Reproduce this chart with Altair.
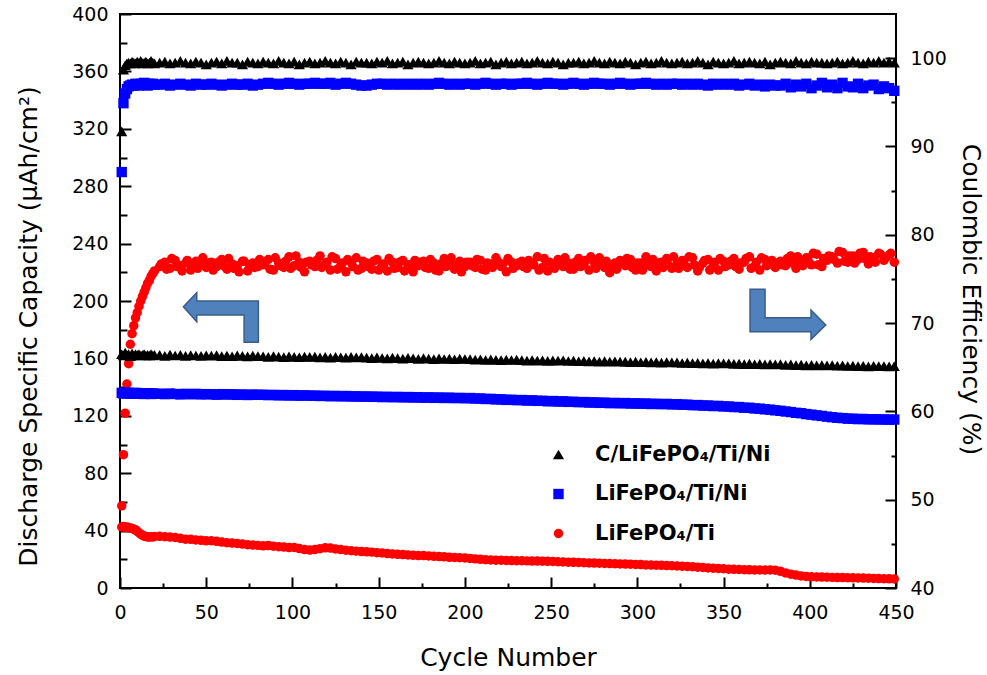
import altair as alt
import pandas as pd

# ---------------- data ----------------
cycles = list(range(1, 21)) + list(range(23, 450, 3))
cycles_b = list(range(24, 448, 3))  # extra read-outs of the red efficiency cloud
series_names = ["C/LiFePO\u2084/Ti/Ni", "LiFePO\u2084/Ti/Ni", "LiFePO\u2084/Ti"]
series_colors = ["#000000", "#0000FF", "#FF0000"]
series_shapes = ["triangle-up", "square", "circle"]

# Coulombic efficiency (%)
eff_black = [91.7, 98.7, 99.2, 99.4, 99.5, 99.4, 99.6, 99.5, 99.4, 99.6,
             99.5, 99.7, 99.4, 99.5, 99.6, 99.4, 99.5, 99.7, 99.5, 99.4,
             99.5, 99.6, 99.4, 99.5, 99.7, 99.5, 99.4, 99.6, 99.5, 99.3,
             99.5, 99.6, 99.4, 99.7, 99.5, 99.5, 99.3, 99.6, 99.5, 99.4,
             99.6, 99.5, 99.4, 99.7, 99.5, 99.4, 99.6, 99.3, 99.5, 99.6,
             99.4, 99.5, 99.7, 99.5, 99.4, 99.6, 99.5, 99.3, 99.6, 99.5,
             99.5, 99.4, 99.6, 99.5, 99.7, 99.4, 99.5, 99.6, 99.3, 99.5,
             99.6, 99.5, 99.4, 99.5, 99.7, 99.5, 99.4, 99.6, 99.5, 99.4,
             99.5, 99.7, 99.4, 99.5, 99.6, 99.3, 99.5, 99.6, 99.4, 99.5,
             99.6, 99.4, 99.5, 99.7, 99.5, 99.4, 99.6, 99.5, 99.3, 99.5,
             99.5, 99.6, 99.4, 99.5, 99.7, 99.5, 99.4, 99.6, 99.5, 99.4,
             99.6, 99.5, 99.3, 99.5, 99.6, 99.4, 99.5, 99.7, 99.5, 99.4,
             99.5, 99.6, 99.4, 99.5, 99.7, 99.5, 99.3, 99.6, 99.5, 99.4,
             99.5, 99.7, 99.4, 99.5, 99.6, 99.5, 99.4, 99.6, 99.3, 99.5,
             99.6, 99.5, 99.4, 99.7, 99.5, 99.4, 99.6, 99.5, 99.5, 99.4,
             99.5, 99.6, 99.4, 99.5, 99.7, 99.5, 99.4, 99.6, 99.5, 99.7,
             99.5, 99.6, 99.5]
eff_blue = [87.1, 94.9, 96.0, 96.5, 96.8, 96.9, 97.0, 96.9, 97.1, 97.0,
            96.9, 97.1, 97.0, 97.2, 97.0, 96.9, 97.1, 97.0, 97.1, 97.0,
            97.0, 97.1, 96.9, 97.0, 97.1, 97.0, 96.9, 97.1, 97.0, 97.0,
            97.1, 97.0, 96.9, 97.0, 97.1, 97.0, 97.0, 97.1, 96.9, 97.0,
            97.1, 97.2, 97.1, 97.0, 97.1, 97.2, 97.1, 97.0, 97.1, 97.1,
            97.2, 97.1, 97.1, 97.2, 97.0, 97.1, 97.2, 97.1, 97.0, 96.9,
            96.9, 97.0, 97.1, 97.1, 97.0, 97.1, 97.0, 97.1, 97.0, 97.1,
            97.0, 97.1, 97.0, 97.1, 97.2, 97.1, 97.0, 97.1, 97.0, 97.1,
            97.1, 97.0, 97.1, 97.2, 97.1, 97.0, 97.1, 97.1, 97.0, 97.1,
            97.1, 97.2, 97.1, 97.0, 97.1, 97.2, 97.1, 97.1, 97.0, 97.1,
            97.2, 97.1, 97.0, 97.1, 97.2, 97.1, 97.1, 97.0, 97.1, 97.2,
            97.1, 97.0, 97.1, 97.1, 97.2, 97.1, 97.0, 97.1, 97.0, 97.1,
            97.1, 97.0, 97.1, 97.0, 97.1, 97.0, 96.9, 97.1, 97.0, 97.1,
            97.0, 97.1, 96.9, 97.0, 97.1, 96.9, 97.0, 96.8, 97.0, 96.9,
            96.9, 97.1, 96.7, 97.0, 96.8, 97.1, 96.6, 96.9, 97.2, 96.7,
            97.0, 96.6, 97.2, 96.8, 96.7, 97.1, 96.6, 96.9, 97.0, 96.5,
            96.8, 96.6, 96.3]
eff_red = [49.3, 55.1, 59.8, 63.1, 65.4, 67.6, 68.8, 69.7, 70.6, 71.2,
           71.9, 72.5, 73.0, 73.5, 74.0, 74.5, 74.8, 75.3, 75.6, 75.9,
           76.4, 76.9, 76.2, 77.1, 76.5, 76.8, 76.0, 77.0, 76.6, 76.3,
           76.9, 76.4, 77.2, 76.1, 76.7, 76.5, 77.0, 75.9, 76.8, 76.4,
           76.6, 77.2, 76.0, 76.8, 76.3, 77.5, 76.5, 76.9, 75.8, 77.0,
           76.4, 77.6, 76.7, 76.0, 77.3, 76.5, 75.8, 76.9, 77.4, 76.2,
           76.8, 76.1, 77.2, 76.5, 75.9, 76.9, 76.3, 77.1, 76.6, 75.8,
           76.5, 77.0, 76.2, 76.8, 75.9, 77.3, 76.6, 76.1, 77.0, 76.4,
           76.9, 76.3, 77.1, 76.0, 76.7, 77.4, 76.4, 75.8, 76.9, 76.5,
           77.0, 76.2, 76.8, 77.5, 76.3, 75.9, 76.7, 77.2, 76.4, 76.8,
           76.1, 77.3, 76.6, 76.0, 76.9, 77.4, 76.3, 75.7, 76.8, 77.1,
           76.5, 77.2, 76.0, 76.8, 77.5, 76.4, 75.9, 76.9, 77.3, 76.2,
           76.7, 77.1, 76.3, 77.4, 75.9, 76.8, 77.2, 76.5, 76.0, 77.0,
           76.6, 77.3, 76.1, 76.9, 77.5, 76.4, 76.0, 77.2, 76.7, 76.3,
           77.0, 76.5, 77.6, 76.2, 76.9, 77.4, 76.6, 77.8, 76.4, 77.1,
           77.5, 76.8, 78.0, 76.9, 77.6, 77.2, 78.0, 76.7, 77.4, 77.9,
           77.1, 77.7, 76.9]
eff_red_b = [76.7, 76.1, 77.3, 76.4, 75.9, 77.1, 76.6, 76.2, 77.4, 76.8,
             76.0, 76.9, 76.5, 77.3, 76.2, 75.8, 77.0, 76.6, 76.3, 77.2,
             76.8, 76.1, 77.4, 76.5, 77.0, 76.2, 77.6, 76.3, 76.9, 76.6,
             77.1, 76.3, 76.9, 77.5, 76.1, 76.8, 77.2, 76.4, 76.0, 77.0,
             76.4, 77.0, 76.0, 76.7, 77.3, 76.2, 76.9, 75.9, 76.6, 77.1,
             76.9, 76.3, 77.2, 76.0, 76.7, 76.4, 77.4, 76.6, 75.8, 76.9,
             76.5, 77.2, 76.1, 76.8, 76.3, 77.0, 76.7, 77.3, 76.2, 76.8,
             76.4, 77.1, 76.6, 76.0, 77.3, 76.9, 76.2, 76.6, 77.4, 76.1,
             76.9, 76.4, 77.1, 77.5, 76.2, 76.7, 77.0, 76.4, 76.1, 76.9,
             77.3, 76.3, 76.8, 76.0, 76.6, 77.2, 76.8, 76.3, 76.6, 77.5,
             76.2, 76.8, 77.5, 76.6, 76.3, 77.1, 76.0, 76.9, 77.3, 76.4,
             77.0, 76.4, 76.8, 77.3, 76.2, 76.9, 77.4, 76.5, 77.1, 76.8,
             76.6, 77.3, 76.8, 77.5, 76.5, 77.1, 77.9, 76.6, 77.3, 77.6,
             77.2, 78.1, 77.0, 77.6, 76.8, 77.9, 77.3, 77.5, 76.9, 77.8,
             77.4, 77.9]

# Discharge specific capacity (uAh/cm2)
cap_black = [163.0, 162.0, 164.0, 162.5, 163.0, 161.5, 163.5, 162.0, 163.0, 162.5,
             163.0, 162.0, 162.5, 163.0, 162.0, 162.5, 162.0, 163.0, 162.0, 162.5,
             162.5, 161.8, 162.6, 162.0, 162.4, 161.7, 162.3, 162.0, 161.8, 162.2,
             161.9, 162.3, 161.6, 162.0, 161.5, 162.1, 161.8, 161.4, 162.0, 161.6,
             161.5, 161.0, 161.6, 161.2, 160.9, 161.4, 161.1, 160.8, 161.3, 161.0,
             161.2, 160.7, 161.0, 160.6, 161.1, 160.8, 160.5, 161.0, 160.7, 160.9,
             160.6, 160.2, 160.7, 160.3, 160.0, 160.5, 160.2, 159.9, 160.4, 160.1,
             159.7, 160.2, 159.8, 159.5, 160.0, 159.6, 159.9, 159.4, 159.8, 159.6,
             159.5, 159.1, 159.4, 158.9, 159.3, 159.0, 158.8, 159.2, 158.9, 159.1,
             158.8, 158.5, 158.9, 158.4, 158.7, 158.3, 158.6, 158.4, 158.7, 158.2,
             158.4, 158.0, 158.3, 157.9, 158.2, 157.8, 158.1, 157.7, 158.0, 157.8,
             157.8, 157.4, 157.7, 157.3, 157.6, 157.2, 157.5, 157.1, 157.4, 157.2,
             157.2, 156.8, 157.1, 156.7, 156.9, 156.5, 156.8, 156.4, 156.7, 156.5,
             156.6, 156.2, 156.4, 156.0, 156.3, 155.9, 156.2, 155.8, 156.1, 155.8,
             156.0, 155.5, 155.8, 155.3, 155.6, 155.2, 155.5, 155.1, 155.4, 155.2,
             155.3, 154.9, 155.2, 154.7, 155.0, 154.6, 154.9, 154.5, 154.8, 154.6,
             154.7, 154.4, 154.6]
cap_blue = [136.0, 135.5, 136.2, 135.6, 136.0, 135.4, 135.8, 135.5, 136.0, 135.6,
            135.3, 135.8, 135.5, 135.2, 135.7, 135.4, 135.6, 135.2, 135.5, 135.3,
            135.4, 135.1, 135.5, 135.2, 134.9, 135.3, 135.0, 135.3, 134.9, 135.1,
            135.0, 134.7, 135.1, 134.8, 135.0, 134.6, 134.9, 134.5, 134.8, 134.6,
            134.7, 134.4, 134.6, 134.2, 134.5, 134.1, 134.4, 134.0, 134.3, 134.0,
            134.1, 133.8, 134.0, 133.6, 133.9, 133.5, 133.8, 133.4, 133.6, 133.3,
            133.5, 133.2, 133.4, 133.0, 133.3, 132.9, 133.2, 132.8, 133.1, 132.7,
            133.0, 132.6, 132.9, 132.5, 132.8, 132.4, 132.7, 132.3, 132.5, 132.2,
            132.4, 132.0, 132.1, 131.7, 131.8, 131.4, 131.5, 131.1, 131.2, 130.9,
            131.0, 130.6, 130.8, 130.4, 130.5, 130.1, 130.3, 129.9, 130.1, 129.7,
            129.8, 129.5, 129.6, 129.2, 129.4, 129.0, 129.2, 128.8, 129.0, 128.7,
            128.9, 128.5, 128.7, 128.4, 128.6, 128.2, 128.4, 128.1, 128.3, 127.9,
            128.1, 127.7, 127.8, 127.4, 127.5, 127.1, 127.2, 126.8, 126.9, 126.5,
            126.5, 126.1, 126.1, 125.6, 125.6, 125.1, 125.0, 124.5, 124.3, 123.8,
            123.5, 123.0, 122.6, 122.1, 121.8, 121.2, 120.8, 120.3, 119.9, 119.4,
            119.0, 118.6, 118.4, 118.0, 118.0, 117.7, 117.8, 117.5, 117.6, 117.4,
            117.5, 117.3, 117.4]
cap_red = [42.5, 42.8, 42.2, 42.6, 42.0, 41.8, 41.5, 41.0, 40.5, 39.5,
           38.5, 37.5, 36.8, 36.2, 35.8, 35.6, 35.5, 35.8, 35.6, 35.9,
           36.0, 35.7, 35.5, 35.2, 34.6, 34.0, 33.9, 33.5, 33.2, 32.9,
           33.0, 32.5, 32.0, 31.6, 31.3, 31.0, 30.6, 30.2, 29.9, 29.7,
           29.4, 29.6, 29.1, 28.8, 28.5, 28.2, 28.3, 27.5, 26.8, 26.4,
           26.8, 27.4, 28.0, 27.8, 27.2, 26.8, 26.3, 26.0, 25.7, 25.4,
           25.2, 25.0, 24.6, 24.4, 24.0, 23.7, 23.5, 23.3, 23.0, 22.8,
           22.6, 22.6, 22.3, 22.1, 21.9, 21.7, 21.4, 21.3, 21.1, 20.9,
           20.6, 20.3, 20.0, 19.7, 19.5, 19.4, 19.4, 19.2, 19.1, 19.0,
           19.0, 18.9, 18.8, 18.8, 18.7, 18.6, 18.5, 18.3, 18.2, 18.0,
           17.9, 17.8, 17.6, 17.5, 17.4, 17.3, 17.1, 17.0, 16.9, 16.8,
           16.7, 16.6, 16.4, 16.3, 16.1, 16.0, 15.9, 15.8, 15.6, 15.5,
           15.4, 15.2, 15.0, 14.8, 14.5, 14.3, 14.0, 13.8, 13.6, 13.4,
           13.1, 13.0, 12.9, 12.8, 12.7, 12.6, 12.6, 12.5, 12.6, 12.4,
           11.6, 10.5, 9.6, 9.0, 8.4, 8.0, 7.8, 7.7, 7.6, 7.5,
           7.4, 7.3, 7.3, 7.2, 7.1, 7.0, 6.9, 6.8, 6.7, 6.6,
           6.5, 6.4, 6.3]

# annotation arrows (position in data units)
arrow_cycle = [58.5, 387.3]
arrow_cap = [188.5, 190.7]

for arr in (eff_black, eff_blue, eff_red, cap_black, cap_blue, cap_red):
    assert len(arr) == len(cycles), len(arr)
assert len(eff_red_b) == len(cycles_b), len(eff_red_b)

# ---------------- tables ----------------
def long_table(values_by_series):
    rows = []
    for name, vals in zip(series_names, values_by_series):
        for c, v in zip(cycles, vals):
            rows.append({"cycle": c, "value": v, "series": name})
    return pd.DataFrame(rows)

df_cap = long_table([cap_black, cap_blue, cap_red])
df_eff = pd.concat([
    long_table([eff_black, eff_blue, eff_red]),
    pd.DataFrame({"cycle": cycles_b, "value": eff_red_b, "series": series_names[2]}),
], ignore_index=True)
df_arrow_left = pd.DataFrame({"cycle": [arrow_cycle[0]], "value": [arrow_cap[0]]})
df_arrow_right = pd.DataFrame({"cycle": [arrow_cycle[1]], "value": [arrow_cap[1]]})
df_dummy = pd.DataFrame({"cycle": [0, 450], "value": [0, 400], "eff": [40, 105]})

FONT = "DejaVu Sans"
XDOM = [0, 450]
CAPDOM = [0, 400]
EFFDOM = [40, 105]

xs = alt.Scale(domain=XDOM, nice=False, zero=False)
ycap = alt.Scale(domain=CAPDOM, nice=False, zero=False)
yeff = alt.Scale(domain=EFFDOM, nice=False, zero=False)

legend = alt.Legend(
    title=None, orient="none", legendX=428, legendY=430, padding=0,
    labelFont=FONT, labelFontSize=21, labelFontWeight="bold", labelColor="black",
    labelOffset=26, symbolSize=56, rowPadding=17.5, symbolStrokeWidth=0,
    labelLimit=400,
)
color = alt.Color("series:N", scale=alt.Scale(domain=series_names, range=series_colors), legend=legend)
shape = alt.Shape("series:N", scale=alt.Scale(domain=series_names, range=series_shapes), legend=legend)

main_label = dict(labelFont=FONT, labelFontSize=19, labelColor="black", ticks=False, tickSize=0,
                  domain=False, grid=False, titleFont=FONT, titleFontSize=25,
                  titleFontWeight="normal", titleColor="black", labelOverlap=False,
                  labelFlush=False, titleAlign="center", titleBaseline="alphabetic")

x_main = alt.X("cycle:Q", scale=xs, axis=alt.Axis(
    orient="bottom", values=list(range(0, 451, 50)), labelPadding=15,
    title="Cycle Number", titleX=388, titleY=77, titleAngle=0, **main_label))
y_cap_main = alt.Y("value:Q", scale=ycap, axis=alt.Axis(
    orient="left", values=list(range(0, 401, 40)), labelPadding=12,
    title="Discharge Specific Capacity (\u03bcAh/cm\u00b2)", titleX=-84, titleY=312,
    titleAngle=270, **main_label))
y_eff_main = alt.Y("value:Q", scale=yeff, axis=alt.Axis(
    orient="right", values=list(range(40, 101, 10)), labelPadding=14,
    title="Coulombic Efficiency (%)", titleX=66, titleY=285, titleAngle=90, **main_label))

size_scale = alt.Scale(domain=series_names, range=[125, 90, 66])

cap_layer = alt.Chart(df_cap).mark_point(filled=True, opacity=1, strokeWidth=0).encode(
    x=x_main, y=y_cap_main, color=color, shape=shape,
    size=alt.Size("series:N", scale=size_scale, legend=None))
eff_layer = alt.Chart(df_eff).mark_point(filled=True, opacity=1, strokeWidth=0).encode(
    x=alt.X("cycle:Q", scale=xs, axis=None), y=y_eff_main, color=color, shape=shape,
    size=alt.Size("series:N", scale=size_scale, legend=None))


def tick_axis(orient, values, size):
    return alt.Axis(orient=orient, values=values, labels=False, domain=False, ticks=True,
                    tickSize=size, tickWidth=2, tickColor="black", offset=-size,
                    title=None, grid=False)


def x_ticks(values, size):
    return alt.Chart(df_dummy).mark_point(opacity=0).encode(
        x=alt.X("cycle:Q", scale=xs, axis=tick_axis("bottom", values, size)),
        y=alt.Y("value:Q", scale=ycap, axis=None))


def y_ticks(values, size, field, scale, orient):
    return alt.Chart(df_dummy).mark_point(opacity=0).encode(
        x=alt.X("cycle:Q", scale=xs, axis=None),
        y=alt.Y(field + ":Q", scale=scale, axis=tick_axis(orient, values, size)))


tick_layers = [
    x_ticks(list(range(0, 451, 50)), 11),
    x_ticks(list(range(25, 450, 50)), 5),
    y_ticks(list(range(0, 401, 40)), 11, "value", ycap, "left"),
    y_ticks(list(range(20, 400, 40)), 7, "value", ycap, "left"),
    y_ticks(list(range(40, 101, 10)), 11, "eff", yeff, "right"),
    y_ticks(list(range(45, 100, 10)), 5, "eff", yeff, "right"),
]

LEFT_ARROW = ("M-1,-0.288 L-0.643,-0.661 L-0.643,-0.44 L1,-0.44 L1,0.661 "
              "L0.619,0.661 L0.619,-0.067 L-0.643,-0.067 L-0.643,0.112 Z")
RIGHT_ARROW = ("M-1,-0.661 L-0.603,-0.661 L-0.603,0.09 L0.611,0.09 L0.611,-0.114 "
               "L1,0.283 L0.611,0.661 L0.611,0.46 L-1,0.46 Z")


def arrow(df, path, size):
    return alt.Chart(df).mark_point(
        shape=path, size=size, filled=True, fill="#4F81BD", stroke="#385D8A",
        strokeWidth=1.5, opacity=1, fillOpacity=1, strokeOpacity=1).encode(
        x=alt.X("cycle:Q", scale=xs, axis=None),
        y=alt.Y("value:Q", scale=ycap, axis=None))


arrows = [arrow(df_arrow_left, LEFT_ARROW, 5625), arrow(df_arrow_right, RIGHT_ARROW, 5730)]

chart = alt.layer(eff_layer, cap_layer, *arrows, *tick_layers).resolve_scale(
    x="independent", y="independent"
).resolve_axis(
    x="independent", y="independent"
).properties(
    width=776, height=574,
    autosize=alt.AutoSizeParams(type="none"),
    padding={"left": 120, "top": 14, "right": 91, "bottom": 87},
    background="white",
).configure_view(
    stroke="black", strokeWidth=2
)

chart.save("out.html", embed_options={"renderer": "svg", "actions": False})
